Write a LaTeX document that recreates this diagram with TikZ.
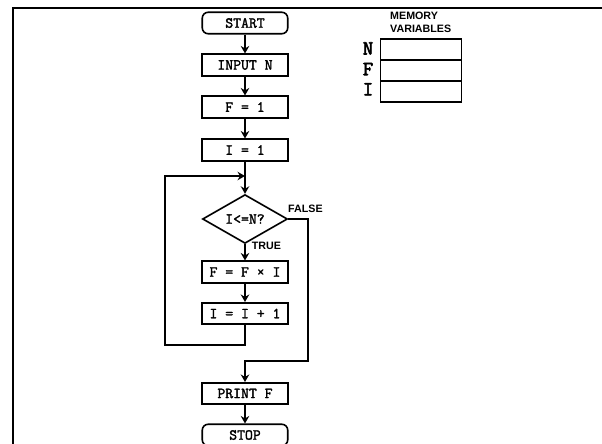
\documentclass[tikz,border=0pt]{standalone}
\usepackage{fontspec}
\usetikzlibrary{shapes.geometric,arrows.meta}
\newfontfamily\sansf{Liberation Sans}
\newfontfamily\courb[FakeBold=1.8]{Latin Modern Mono}
\newfontfamily\courbb[FakeBold=3]{Latin Modern Mono}
\begin{document}
\begin{tikzpicture}[x=1pt,y=1pt,
  box/.style={draw,line width=1.6pt,minimum width=85.5pt,minimum height=21.5pt,inner sep=0pt,
    font=\courb\fontsize{15.3}{17}\selectfont},
  term/.style={box,rounded corners=6pt},
  dec/.style={draw,line width=1.6pt,shape=diamond,minimum width=85pt,minimum height=42pt,inner sep=0pt,
    font=\courb\fontsize{15.3}{17}\selectfont},
  lbl/.style={inner sep=0pt,anchor=base west,font=\sansf\bfseries\fontsize{10.7}{12}\selectfont},
  memlbl/.style={inner sep=0pt,anchor=base,font=\courbb\fontsize{20}{22}\selectfont},
  cell/.style={draw,line width=1.5pt,minimum width=81pt,minimum height=21pt,inner sep=0pt},
  arr/.style={line width=1.6pt,-{Stealth[length=7.5pt,width=8.5pt,inset=2.5pt]}},
  ln/.style={line width=1.6pt}]
\useasboundingbox (0,0) rectangle (602,-444);
\clip (0,0) rectangle (602,-444);
\fill[white] (0,0) rectangle (602,-444);
% frame
\draw[line width=2.2pt] (13,-460) -- (13,-8) -- (620,-8);
% flowchart
\node[term] (start) at (245,-23) {START};
\node[box] (input) at (245,-65) {INPUT N};
\node[box] (f1) at (245,-107) {F = 1};
\node[box] (i1) at (245,-150) {I = 1};
\node[dec] (cond) at (245,-219) {I<=N?};
\node[box] (mul) at (245,-272) {F = F × I};
\node[box] (inc) at (245,-313.5) {I = I + 1};
\node[box] (print) at (245,-393.5) {PRINT F};
\node[term] (stop) at (245,-435) {STOP};
\coordinate (merge) at (245,-176);
\coordinate (loopbl) at (165,-345);
\coordinate (fr) at (308,-361);
\draw[arr] (start) -- (input);
\draw[arr] (input) -- (f1);
\draw[arr] (f1) -- (i1);
\draw[arr] (i1) -- (cond);
\draw[arr] (cond) -- (mul);
\draw[arr] (mul) -- (inc);
\draw[arr] (inc.south) |- (loopbl) |- (merge);
\draw[arr] (cond.east) -| (fr) -| (print.north);
\draw[arr] (print) -- (stop);
\node[lbl] (false) at (288,-212) {FALSE};
\node[lbl] (true) at (251.7,-249) {TRUE};
% memory
\node[lbl] (mem1) at (390,-19.3) {MEMORY};
\node[lbl] (mem2) at (390,-32.3) {VARIABLES};
\node[cell] (cN) at (421,-49.5) {};
\node[cell] (cF) at (421,-70.5) {};
\node[cell] (cI) at (421,-91.5) {};
\node[memlbl] (lN) at (368,-54.5) {N};
\node[memlbl] (lF) at (368,-75.2) {F};
\node[memlbl] (lI) at (368,-95.4) {I};
\end{tikzpicture}
\end{document}
